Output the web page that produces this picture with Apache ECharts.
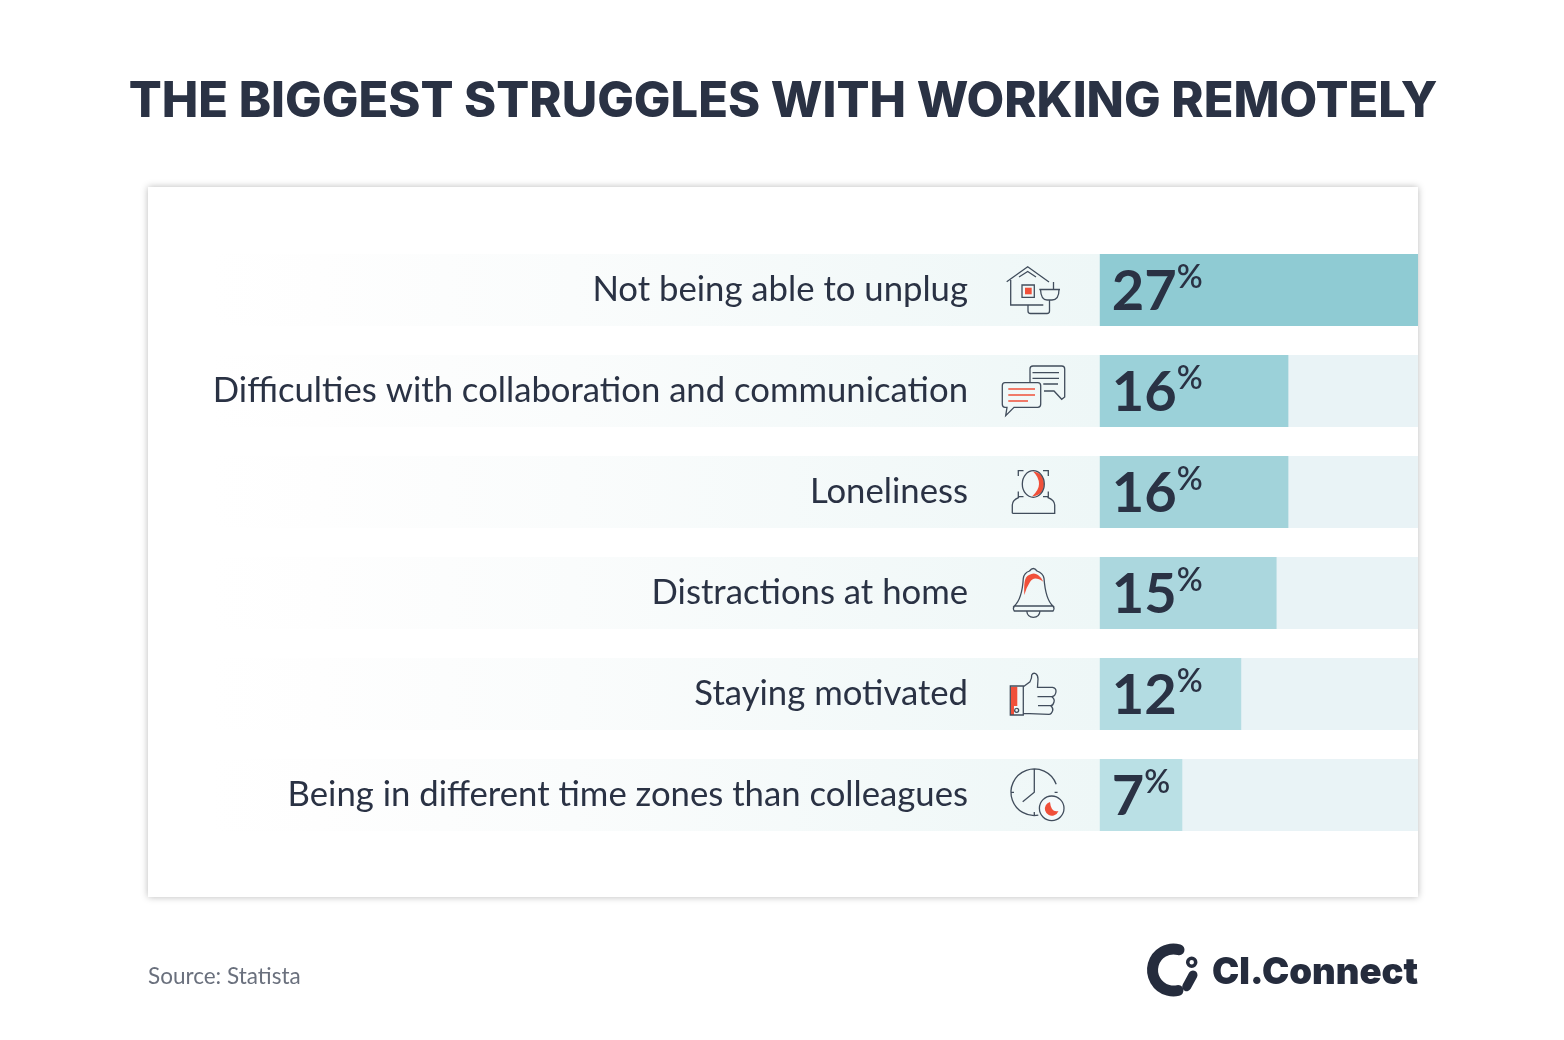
<!DOCTYPE html>
<html>
<head>
<meta charset="utf-8">
<title>The biggest struggles with working remotely</title>
<script src="https://cdn.jsdelivr.net/npm/echarts@6/dist/echarts.min.js"></script>
<style>
    html, body { margin: 0; padding: 0; background: #fff; }
    #main { width: 1564px; height: 1040px; }
</style>
</head>
<body>
<div id="main"></div>
<script>
const categories = [
    'Not being able to unplug',
    'Difficulties with collaboration and communication',
    'Loneliness',
    'Distractions at home',
    'Staying motivated',
    'Being in different time zones than colleagues'
]
const shares = [27, 16, 16, 15, 12, 7]
const barColors = ['#8fcbd3', '#9bd1d9', '#a2d3da', '#abd7de', '#b3dce2', '#bae0e5']

const DARK = '#2a3244'
const LINE = '#414d5c'
const RED = '#f0503a'
const LOGO = '#252c3d'

// 图标线条
const iconLines = [
    // house + sink
    'M1006.7 281.7L1027.7 266.7L1049 282M1019 277L1027.7 271.5L1036 277M1010.7 280V305H1043.3M1022 285H1034.3V297.3H1022ZM1028 305V311Q1028 313.5 1030.5 313.5H1047Q1049.5 313.5 1049.5 311V300M1039.3 289.5H1060M1040.5 289.5Q1041 300 1047 300H1052Q1059 300 1059 289.5M1053.5 282V289.5',
    // chat bubbles
    'M1030 382V369Q1030 366 1033 366H1061.7Q1064.7 366 1064.7 369V397L1061.7 399.3L1054 391H1044M1032.5 372.7H1059M1032.5 378.3H1059M1043.3 384H1058M1005 382.7H1037.7Q1040.7 382.7 1040.7 385.7V404.3Q1040.7 407.3 1037.7 407.3H1014L1005.7 415.7L1007 407.3H1005Q1002.3 407.3 1002.3 404.3V385.7Q1002.3 382.7 1005 382.7Z',
    // face + shoulders
    'M1022.3 484A11 13.3 0 1 0 1044.3 484A11 13.3 0 1 0 1022.3 484ZM1018.3 476V470.7H1023.5M1043 470.7H1048.3V476M1018.3 491.5V496.7H1023.5M1043 496.7H1048.3V491.5M1012.3 513.3V505Q1012.3 500 1019 497.3M1047.5 497.3Q1054.7 500 1054.7 505V513.3H1012.3',
    // bell
    'M1023.3 578.3Q1024 573 1029.5 571Q1033.3 566 1037 571Q1043 573 1044 578.3C1045 592 1047 601 1053 606H1014.3C1020 601 1022.5 592 1023.3 578.3ZM1014.3 606Q1012.5 608.5 1014.3 611H1053Q1055 608.5 1053 606M1026.7 611Q1027.5 617.3 1033.3 617.3Q1039.5 617.3 1040 611',
    // thumb up
    'M1010.3 686H1023.3V715H1010.3ZM1023.3 686.7L1030 681.7Q1032 678 1031.7 675Q1033 672.5 1035.5 673.5Q1038 675 1038 679L1037.5 687.3H1052.5Q1056 688 1056 691Q1056 696 1051.7 696.7Q1055 699 1054 702Q1053 705.7 1050.7 705.7Q1053.5 708 1052.7 710.5Q1051.5 714.3 1049 714.3L1023.3 713.3M1037.5 696.7H1051.7M1038 705.7H1050.7M1016.7 708.3A2 2 0 1 1 1016.6 708.3',
    // clock
    'M1056.2 784.3A23.3 23.3 0 1 0 1038.3 815.2M1034.3 769V792.3L1022.7 801.7M1011 792.3H1014M1034.3 812V815.6M1034.3 769V772M1054.6 792.3H1057.6'
]
const iconFills = [
    'M1025 287.7H1031.7V294.3H1025Z',
    'M1008.3 388.3H1035V389.7H1008.3ZM1008.3 394.3H1035V395.7H1008.3ZM1008.3 400.3H1028V401.7H1008.3Z',
    'M1033 471.5Q1044 473 1044 484Q1044 495 1032 496.5Q1039 490 1039 484Q1039 477 1033 471.5Z',
    'M1024.3 595C1024 585 1024 577 1029 575Q1034 572 1038 575Q1042 578 1043.3 581.7Q1034 575 1030 582Q1026 588 1024.3 595Z',
    'M1011 686.7H1017.3V706H1014V715H1011Z',
    'M1050 802A7 7 0 1 0 1058.5 811Q1051 813 1050 802Z'
]

// graphic 组件没有 path 类型，先注册成形状
let shapeCount = 0
function pathShape(d) {
    let name = 'svgPath' + (shapeCount++)
    echarts.graphic.registerShape(name, echarts.graphic.extendPath(d))
    return name
}

function iconGraphics() {
    let res = []
    // 时钟右下角的小圆
    res.push({
        type: 'circle', z: 20,
        shape: { cx: 1051.7, cy: 808.3, r: 12.3 },
        style: { fill: '#f4fafb', stroke: LINE, lineWidth: 1.3 }
    })
    iconFills.forEach(function (d) {
        res.push({ type: pathShape(d), z: 21, style: { fill: RED } })
    })
    iconLines.forEach(function (d) {
        res.push({ type: pathShape(d), z: 22, style: { fill: 'none', stroke: LINE, lineWidth: 1.3 } })
    })
    return res
}

const myChart = echarts.init(document.getElementById('main'), null, { renderer: 'canvas' })

myChart.setOption({
    backgroundColor: '#ffffff',
    animation: false,
    title: {
        text: 'THE BIGGEST STRUGGLES WITH WORKING REMOTELY',
        left: 778,
        top: 73,
        textAlign: 'center',
        textStyle: {
            fontFamily: 'Inter',
            fontWeight: 800,
            fontSize: 48.8,
            color: DARK
        }
    },
    // 一个网格：0 在 x=1100，左边的负值区域只放渐变底
    grid: { left: 210, right: 146, top: 239.5, height: 606 },
    xAxis: {
        type: 'value',
        min: -75.5,
        max: 27,
        show: false
    },
    yAxis: {
        type: 'category',
        inverse: true,
        data: categories,
        offset: -758,
        z: 10,
        axisLine: { show: false },
        axisTick: { show: false },
        axisLabel: {
            margin: 0,
            padding: [2, 0, 0, 0],
            fontFamily: 'Lato',
            fontSize: 34.7,
            color: DARK
        }
    },
    series: [
        {
            type: 'bar',
            barWidth: 72,
            z: 5,
            showBackground: true,
            backgroundStyle: {
                color: new echarts.graphic.LinearGradient(0, 0, 1, 0, [
                    { offset: 0, color: '#ffffff' },
                    { offset: 0.09, color: '#fefefe' },
                    { offset: 0.3, color: '#fafcfc' },
                    { offset: 0.737, color: '#eef7f7' },
                    { offset: 0.738, color: '#e9f3f6' },
                    { offset: 1, color: '#e9f3f6' }
                ])
            },
            data: shares.map(function (v, i) {
                return { value: v, itemStyle: { color: barColors[i] } }
            }),
            label: {
                show: true,
                position: 'insideLeft',
                distance: 12,
                offset: [0, 2],
                formatter: function (p) {
                    return '{n|' + p.value + '}{p|%}'
                },
                rich: {
                    n: { fontFamily: 'Lato', fontWeight: 700, fontSize: 56, color: DARK, lineHeight: 60 },
                    p: { fontFamily: 'Lato', fontWeight: 600, fontSize: 32, color: DARK, verticalAlign: 'top', lineHeight: 60, padding: [0, 0, 10, 0] }
                }
            }
        }
    ],
    graphic: [
        {
            type: 'rect',
            z: -10,
            shape: { x: 148, y: 187, width: 1270, height: 710 },
            style: {
                fill: '#ffffff',
                shadowBlur: 7,
                shadowColor: 'rgba(0,0,0,0.28)'
            }
        },
        {
            type: 'text',
            x: 148,
            y: 965,
            style: { text: 'Source: Statista', fontFamily: 'Lato', fontSize: 22.5, fill: '#6a707d' }
        },
        // logo
        {
            type: pathShape('M1179 949.7A21 21 0 1 0 1178 990.5'),
            style: { fill: 'none', stroke: LOGO, lineWidth: 11, lineCap: 'round' }
        },
        {
            type: 'circle',
            shape: { cx: 1191.7, cy: 962.3, r: 4 },
            style: { fill: 'none', stroke: LOGO, lineWidth: 3.5 }
        },
        {
            type: pathShape('M1193 975L1186.7 986.7'),
            style: { fill: 'none', stroke: LOGO, lineWidth: 9, lineCap: 'round' }
        },
        {
            type: 'text',
            x: 1212,
            y: 955,
            style: { text: 'CI.Connect', fontFamily: 'Inter', fontWeight: 900, fontSize: 36.5, fill: LOGO }
        }
    ].concat(iconGraphics())
})
</script>
</body>
</html>
